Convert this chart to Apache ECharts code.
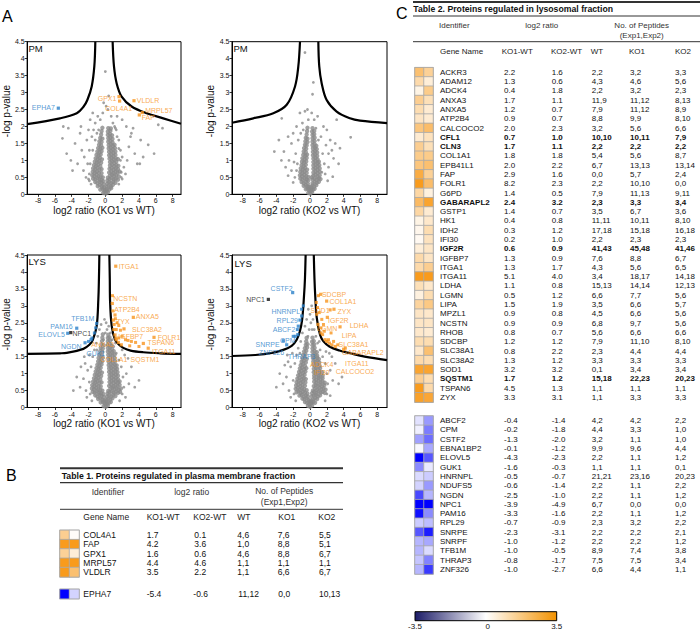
<!DOCTYPE html>
<html><head><meta charset="utf-8">
<script src="https://cdn.jsdelivr.net/npm/echarts@6/dist/echarts.min.js"></script>
<style>html,body{margin:0;padding:0;background:#fff}#c{width:700px;height:631px}</style>
</head><body><div id="c"></div>
<script>
// ---------------- DATA ----------------
const xTicks = [-8,-6,-4,-2,0,2,4,6,8];

// grey clouds
const pmKO1Core = [[-0.25,.04],[0.05,.02],[0.3,.06],[-0.1,.08],[0.15,.1],
[-0.6,.14],[-0.35,.17],[-0.1,.13],[0.2,.16],[0.45,.14],[0.7,.18],
[-0.9,.24],[-0.65,.27],[-0.4,.23],[0.4,.26],[0.65,.23],[0.9,.28],[-0.15,.2],[0.15,.22],
[-1.2,.36],[-0.95,.33],[-0.7,.37],[-0.45,.34],[0.45,.36],[0.7,.33],[0.95,.37],[1.2,.34],[-0.2,.3],[0.2,.31],
[-1.45,.46],[-1.2,.44],[-0.95,.47],[-0.7,.43],[-0.45,.42],[0.5,.45],[0.75,.47],[1.0,.44],[1.25,.46],[1.5,.43],[-0.25,.39],[0.25,.4],
[-1.55,.56],[-1.3,.54],[-1.05,.57],[-0.8,.53],[-0.55,.52],[0.55,.55],[0.8,.57],[1.05,.54],[1.3,.56],[1.6,.53],[-0.3,.5],[0.3,.49],
[-1.5,.66],[-1.25,.64],[-1.0,.67],[-0.75,.63],[-0.45,.62],[0.45,.64],[0.7,.67],[0.95,.63],[1.2,.66],[1.45,.64],[1.7,.67],
[-1.45,.76],[-1.2,.74],[-0.95,.77],[-0.7,.73],[-0.45,.74],[0.5,.75],[0.75,.77],[1.0,.73],[1.25,.76],[1.5,.74],
[-1.35,.86],[-1.1,.84],[-0.85,.87],[-0.6,.83],[0.55,.85],[0.8,.87],[1.05,.83],[1.3,.86],[1.55,.84],
[-1.25,.96],[-1.0,.94],[-0.75,.97],[-0.5,.93],[0.55,.95],[0.8,.97],[1.05,.93],[1.3,.96],
[-1.15,1.06],[-0.9,1.04],[-0.65,1.07],[-0.4,1.03],[0.5,1.05],[0.75,1.07],[1.0,1.03],[1.25,1.06],[1.5,1.04],
[-1.05,1.16],[-0.8,1.14],[-0.55,1.17],[0.45,1.15],[0.7,1.17],[0.95,1.13],[1.2,1.16],
[-0.95,1.26],[-0.7,1.24],[-0.45,1.27],[0.45,1.25],[0.7,1.27],[0.95,1.23],[1.2,1.26],
[-0.85,1.36],[-0.6,1.34],[-0.35,1.37],[0.4,1.35],[0.65,1.37],[0.9,1.33],[1.15,1.36],
[-0.75,1.46],[-0.5,1.44],[0.4,1.45],[0.65,1.47],[0.9,1.43],[1.1,1.46],
[-0.7,1.56],[-0.45,1.54],[0.35,1.55],[0.6,1.57],[0.85,1.53],
[-0.6,1.66],[-0.35,1.64],[0.35,1.65],[0.6,1.67],[0.85,1.63],
[-0.5,1.76],[0.3,1.75],[0.55,1.77],[0.8,1.74],
[-0.45,1.86],[0.3,1.85],[0.6,1.87],[-0.35,1.96],[0.35,1.95],[0.65,1.94]];
const pmKO1Scatter = [[-5.0,2.0],[-4.4,1.95],[-5.1,1.65],[-4.6,1.2],[-3.0,1.8],[-3.6,1.5],[-2.8,1.3],[-3.3,0.9],[-2.5,1.1],[-2.2,1.6],
[-2.6,0.7],[-2.1,0.9],[-1.9,1.3],[-2.3,0.5],[-1.9,0.4],[-1.8,2.2],[-2.0,1.9],[-1.6,1.7],[-1.4,1.9],[-1.2,2.1],[-1.0,1.8],[-0.9,2.3],
[-0.6,2.2],[-0.3,2.4],[0.1,2.6],[0.3,2.5],[0.4,2.9],[0.0,3.62],[-0.2,2.7],[0.7,2.3],[0.9,2.1],[1.1,2.0],[1.3,1.9],[1.6,1.6],[1.8,1.3],
[2.0,1.1],[2.2,0.8],[1.9,0.5],[2.4,0.6],[2.6,1.0],[2.8,1.4],[3.0,1.7],[3.3,1.95],[3.1,1.8],[3.5,1.2],[3.8,0.9],[4.1,0.9],[4.5,1.1],
[5.1,1.46],[5.8,1.2],[6.3,2.05],[6.8,1.95],[4.2,1.6],[2.5,2.0],[-3.9,0.7],[-2.9,2.0],[-4.1,1.0],[1.4,2.3],[2.0,2.2],[-1.5,2.4],
[-1.9,0.6],[-2.0,0.45],[1.9,0.65],[2.0,0.45],[-1.8,0.9],[1.8,1.0],[-1.5,1.3],[1.6,1.35],[-1.2,1.6],[1.4,1.7],[-0.8,1.9],[1.2,1.95],[-1.7,0.3],[1.6,0.3]];

const pmKO2Core = [[-0.2,.04],[0.05,.02],[0.25,.07],[-0.05,.1],[0.15,.12],
[-0.5,.15],[-0.3,.17],[-0.1,.14],[0.15,.17],[0.35,.14],[0.55,.16],
[-0.75,.25],[-0.5,.27],[-0.3,.23],[0.3,.26],[0.5,.23],[0.75,.27],[-0.1,.21],[0.1,.22],
[-1.0,.36],[-0.75,.33],[-0.5,.37],[-0.25,.31],[0.3,.33],[0.55,.36],[0.8,.34],[1.05,.37],
[-1.15,.46],[-0.9,.44],[-0.65,.47],[-0.4,.43],[-0.2,.41],[0.3,.44],[0.55,.46],[0.8,.43],[1.05,.47],[1.25,.45],
[-1.2,.56],[-0.95,.54],[-0.7,.57],[-0.45,.53],[0.4,.55],[0.65,.57],[0.9,.53],[1.15,.56],[-0.2,.51],[0.2,.5],
[-1.15,.66],[-0.9,.64],[-0.65,.67],[-0.4,.63],[0.4,.64],[0.65,.67],[0.9,.63],[1.15,.66],
[-1.1,.76],[-0.85,.74],[-0.6,.77],[-0.35,.73],[0.4,.75],[0.65,.77],[0.9,.73],[1.15,.76],
[-1.0,.86],[-0.75,.84],[-0.5,.87],[0.4,.85],[0.65,.87],[0.9,.83],[1.1,.86],
[-0.95,.96],[-0.7,.94],[-0.45,.97],[0.4,.95],[0.65,.97],[0.9,.93],[1.05,.96],
[-0.9,1.06],[-0.65,1.04],[-0.4,1.07],[0.4,1.05],[0.65,1.07],[0.9,1.03],
[-0.8,1.16],[-0.55,1.14],[-0.35,1.17],[0.35,1.15],[0.6,1.17],[0.85,1.13],
[-0.75,1.26],[-0.5,1.24],[0.35,1.25],[0.6,1.27],[0.85,1.23],
[-0.7,1.36],[-0.45,1.34],[0.35,1.35],[0.6,1.37],[0.8,1.33],
[-0.6,1.46],[-0.4,1.44],[0.3,1.45],[0.55,1.47],[0.75,1.43],
[-0.55,1.56],[-0.3,1.54],[0.3,1.55],[0.55,1.57],
[-0.5,1.66],[-0.3,1.64],[0.3,1.65],[0.55,1.67],
[-0.4,1.76],[0.3,1.75],[0.5,1.77],[-0.35,1.86],[0.25,1.85],[0.5,1.87],[-0.3,1.96],[0.3,1.95]];
const pmKO2Scatter = [[-0.6,4.18],[0.4,3.3],[0.3,2.95],[-0.3,2.5],[-0.6,2.45],[-1.2,2.4],[-0.9,2.1],[0.5,2.2],[0.9,2.3],[-4.24,1.26],
[-3.7,1.6],[-3.36,2.24],[4.83,1.68],[3.17,2.2],[3.56,1.36],[2.8,1.06],[2.7,0.52],[-3.1,1.26],[-2.9,0.8],[-2.5,1.0],[-2.2,1.5],
[-2.0,1.8],[-1.6,2.0],[-2.6,0.55],[2.2,1.2],[2.4,1.6],[2.0,1.9],[1.6,2.0],[1.3,1.7],[3.0,1.5],[1.8,0.6],[2.1,0.4],[-1.8,0.5],
[-2.0,0.35],[-1.4,1.6],[-1.7,1.2],[-1.5,0.9],[1.5,1.2],[1.7,0.9],[1.4,0.65],[-1.6,0.7],[-2.2,0.7],[2.2,0.8],[-0.8,1.9],[0.7,1.95],
[-1.1,1.8],[1.0,1.6],[-2.6,1.7],[2.6,1.3],[-3.4,1.0],[3.4,0.9],[-0.2,2.2],[0.2,2.4],[-1.9,0.95],[1.9,1.45]];

const lysKO1Core = [[-0.2,.04],[0.05,.02],[0.3,.06],[-0.05,.1],[0.2,.11],
[-0.55,.15],[-0.3,.17],[-0.1,.14],[0.15,.17],[0.4,.14],[0.65,.16],
[-0.85,.25],[-0.6,.27],[-0.35,.23],[0.35,.26],[0.6,.23],[0.85,.27],[-0.1,.21],[0.12,.22],
[-1.2,.36],[-0.95,.33],[-0.7,.37],[-0.45,.34],[-0.2,.31],[0.2,.32],[0.45,.36],[0.7,.33],[0.95,.37],[1.2,.34],
[-1.5,.46],[-1.25,.44],[-1.0,.47],[-0.75,.43],[-0.5,.42],[-0.25,.4],[0.25,.41],[0.5,.45],[0.75,.47],[1.0,.44],[1.25,.46],[1.5,.43],[1.75,.46],
[-1.6,.56],[-1.35,.54],[-1.1,.57],[-0.85,.53],[-0.6,.52],[-0.35,.5],[0.35,.49],[0.6,.55],[0.85,.57],[1.1,.54],[1.35,.56],[1.6,.53],[1.85,.56],
[-1.55,.66],[-1.3,.64],[-1.05,.67],[-0.8,.63],[-0.55,.62],[0.45,.64],[0.7,.67],[0.95,.63],[1.2,.66],[1.45,.64],[1.7,.67],
[-1.45,.76],[-1.2,.74],[-0.95,.77],[-0.7,.73],[-0.45,.74],[0.5,.75],[0.75,.77],[1.0,.73],[1.25,.76],[1.5,.74],[1.7,.77],
[-1.35,.86],[-1.1,.84],[-0.85,.87],[-0.6,.83],[0.5,.85],[0.75,.87],[1.0,.83],[1.25,.86],[1.5,.84],
[-1.25,.96],[-1.0,.94],[-0.75,.97],[-0.5,.93],[0.5,.95],[0.75,.97],[1.0,.93],[1.25,.96],[1.5,.94],
[-1.15,1.06],[-0.9,1.04],[-0.65,1.07],[-0.4,1.03],[0.45,1.05],[0.7,1.07],[0.95,1.03],[1.2,1.06],[1.45,1.04],
[-1.05,1.16],[-0.8,1.14],[-0.55,1.17],[0.45,1.15],[0.7,1.17],[0.95,1.13],[1.2,1.16],[1.4,1.14],
[-0.95,1.26],[-0.7,1.24],[-0.45,1.27],[0.4,1.25],[0.65,1.27],[0.9,1.23],[1.15,1.26],[1.35,1.24],
[-0.85,1.36],[-0.6,1.34],[-0.35,1.37],[0.4,1.35],[0.65,1.37],[0.9,1.33],[1.15,1.36],
[-0.8,1.46],[-0.55,1.44],[-0.3,1.47],[0.35,1.45],[0.6,1.47],[0.85,1.43],[1.1,1.46],
[-0.7,1.56],[-0.45,1.54],[0.35,1.55],[0.6,1.57],[0.85,1.53],[1.1,1.56],
[-0.6,1.66],[-0.35,1.64],[0.3,1.65],[0.55,1.67],[0.8,1.63],[1.0,1.66],
[-0.55,1.76],[-0.3,1.74],[0.3,1.75],[0.55,1.77],[0.8,1.73],
[-0.45,1.86],[-0.2,1.84],[0.3,1.85],[0.55,1.87],[0.75,1.83],
[-0.4,1.96],[0.3,1.95],[0.55,1.97],[-0.35,2.06],[0.3,2.05],[0.5,2.07],[-0.3,2.16],[0.35,2.15]];
const lysKO1Scatter = [[-3.0,0.6],[-2.6,0.85],[-2.3,0.5],[-2.1,1.1],[-2.4,1.3],[-1.9,0.75],[-1.8,0.4],[-1.7,1.2],[-1.5,1.5],[-1.3,1.7],
[-1.1,1.9],[-0.9,2.1],[-0.7,2.3],[-0.5,2.45],[-0.1,2.6],[0.1,2.5],[0.2,2.3],[0.4,2.4],[0.6,2.2],[0.8,2.0],[1.0,1.8],[1.3,1.6],
[1.6,1.4],[1.9,1.2],[2.1,0.9],[2.2,0.6],[2.0,0.4],[2.5,1.0],[2.8,0.7],[3.1,1.2],[2.7,1.45],[2.3,1.55],[-3.4,0.9],[-2.9,1.2],
[-1.9,1.55],[-3.8,0.5],[3.5,0.6],[-2.2,0.3],[2.4,0.3],[1.7,0.2],[-1.6,0.2],[0.0,2.2],[-0.2,2.0],[1.2,1.9],[-1.0,1.7],[2.0,1.7],
[-2.5,1.5],[4.0,0.8]];

const lysKO2Core = [[-0.25,.05],[0.0,.02],[0.25,.06],[-0.1,.1],[0.15,.12],
[-0.6,.16],[-0.35,.14],[-0.1,.17],[0.15,.15],[0.4,.17],[0.6,.14],
[-0.9,.26],[-0.65,.24],[-0.4,.27],[0.35,.24],[0.6,.27],[0.85,.25],[-0.15,.22],[0.1,.21],
[-1.25,.35],[-1.0,.37],[-0.75,.33],[-0.5,.36],[-0.25,.32],[0.2,.33],[0.45,.35],[0.7,.37],[0.95,.33],[1.2,.36],
[-1.6,.45],[-1.35,.47],[-1.1,.43],[-0.85,.46],[-0.6,.44],[-0.3,.41],[0.25,.42],[0.5,.46],[0.75,.43],[1.0,.47],[1.25,.44],[1.5,.46],[1.75,.43],
[-1.7,.55],[-1.45,.57],[-1.2,.53],[-0.95,.56],[-0.7,.54],[-0.4,.51],[0.35,.5],[0.6,.56],[0.85,.53],[1.1,.57],[1.35,.54],[1.6,.56],[1.85,.53],
[-1.65,.65],[-1.4,.67],[-1.15,.63],[-0.9,.66],[-0.6,.64],[0.45,.63],[0.7,.66],[0.95,.64],[1.2,.67],[1.45,.63],[1.7,.66],
[-1.6,.75],[-1.35,.77],[-1.1,.73],[-0.85,.76],[-0.55,.74],[0.5,.76],[0.75,.73],[1.0,.77],[1.25,.74],[1.5,.76],[1.75,.73],
[-1.5,.85],[-1.25,.87],[-1.0,.83],[-0.75,.86],[-0.5,.84],[0.5,.86],[0.75,.83],[1.0,.87],[1.25,.84],[1.5,.86],
[-1.4,.95],[-1.15,.97],[-0.9,.93],[-0.65,.96],[0.5,.94],[0.75,.97],[1.0,.93],[1.25,.96],[1.5,.94],
[-1.3,1.05],[-1.05,1.07],[-0.8,1.03],[-0.55,1.06],[0.45,1.04],[0.7,1.07],[0.95,1.03],[1.2,1.06],[1.45,1.04],
[-1.2,1.15],[-0.95,1.17],[-0.7,1.13],[-0.45,1.16],[0.45,1.14],[0.7,1.17],[0.95,1.13],[1.2,1.16],
[-1.1,1.25],[-0.85,1.27],[-0.6,1.23],[0.4,1.26],[0.65,1.24],[0.9,1.27],[1.15,1.23],
[-1.0,1.35],[-0.75,1.37],[-0.5,1.33],[0.4,1.36],[0.65,1.34],[0.9,1.37],[1.1,1.33],
[-0.9,1.45],[-0.65,1.47],[-0.4,1.43],[0.35,1.46],[0.6,1.44],[0.85,1.47],[1.05,1.43],
[-0.8,1.55],[-0.55,1.57],[0.35,1.54],[0.6,1.56],[0.85,1.53],
[-0.7,1.65],[-0.45,1.67],[0.3,1.64],[0.55,1.66],[0.8,1.63],
[-0.6,1.75],[-0.35,1.77],[0.3,1.74],[0.55,1.76],
[-0.5,1.85],[-0.3,1.87],[0.3,1.84],[0.5,1.86],
[-0.45,1.95],[0.25,1.94],[0.45,1.96],[-0.4,2.05],[0.3,2.06]];
const lysKO2Scatter = [[-3.2,0.7],[-2.8,0.9],[-2.5,0.5],[-2.3,1.2],[-2.6,1.35],[-2.0,0.8],[-1.9,0.4],[-1.8,1.3],[-1.6,1.55],[-1.4,1.75],
[-1.1,1.95],[-0.9,2.2],[-0.6,2.4],[-0.4,2.6],[0.0,2.75],[0.1,2.5],[0.25,2.3],[0.35,2.6],[0.5,2.3],[0.7,2.1],[0.9,1.9],[1.2,1.7],
[1.5,1.5],[1.8,1.3],[2.0,1.0],[2.1,0.7],[2.0,0.4],[2.4,1.1],[2.7,0.8],[3.0,1.3],[2.6,1.5],[2.3,1.6],[-3.6,1.0],[-3.0,1.25],
[-2.1,1.6],[-4.0,0.6],[3.4,0.7],[-2.3,0.3],[2.4,0.35],[1.8,0.2],[-1.7,0.2],[-0.1,2.3],[-0.25,2.1],[1.1,1.95],[-1.2,1.6],
[1.9,1.65],[-2.7,1.55],[3.8,0.9],[0.2,3.0],[-0.2,2.9]];

// significance threshold curves
const pmKO1CurveL = [[-9.3,2.07],[-5.39,2.24],[-3.4,2.39],[-2.6,2.58],[-2.14,2.78],[-1.62,3.18],[-1.31,3.77],[-1.19,4.5]];
const pmKO1CurveR = [[0.87,4.5],[1.03,3.77],[1.35,3.27],[1.94,2.88],[3.13,2.59],[4.91,2.39],[6.89,2.24],[9.0,2.08]];
const pmKO2CurveL = [[-9.27,2.11],[-6.74,2.24],[-4.36,2.39],[-2.77,2.64],[-1.78,3.18],[-1.39,3.77],[-1.19,4.5]];
const pmKO2CurveR = [[0.99,4.5],[1.1,3.77],[1.39,3.27],[1.98,2.78],[3.17,2.44],[4.75,2.24],[5.94,2.17],[9.15,2.1]];
const lysKO1CurveL = [[-9.3,1.58],[-5.38,1.6],[-4.59,1.61],[-2.61,1.73],[-1.9,1.85],[-1.5,1.99],[-1.03,2.4],[-0.83,3.2],[-0.76,3.8],[-0.71,4.5]];
const lysKO1CurveR = [[0.48,4.5],[0.53,3.8],[0.56,3.17],[0.76,2.4],[1.15,2.0],[1.6,1.86],[2.14,1.76],[3.0,1.68],[4.5,1.63],[6.5,1.6],[9.0,1.58]];
const lysKO2CurveL = [[-9.27,1.52],[-6.5,1.55],[-4.36,1.62],[-3.17,1.7],[-2.18,1.82],[-1.58,2.0],[-1.2,2.25],[-0.93,2.6],[-0.71,3.3],[-0.6,3.8],[-0.52,4.5]];
const lysKO2CurveR = [[0.45,4.5],[0.53,3.8],[0.62,3.3],[0.8,2.65],[1.19,2.15],[1.6,1.95],[2.3,1.8],[3.5,1.68],[4.75,1.6],[6.5,1.5],[9.15,1.4]];

// labelled / significant proteins: [name, log2 ratio, -log p]
const pmKO1Up = [['GPX1',1.63,2.88],['COL4A1',1.7,2.75],['VLDLR',3.41,2.76],['MRPL57',4.4,2.41],['FAP',4.04,2.34]];
const pmKO1Down = [['EPHA7',-5.59,2.54]];
const lysKO1Up = [['ITGA1',1.24,4.17],['NCSTN',0.83,3.07],['ATP2B4',1.15,2.73],['ZYX',0.95,2.58],['ANXA5',3.33,2.66],['SLC38A2',2.22,2.32],
 ['IGFBP7',1.15,2.14],['FOLR1',5.79,2.07],['TSPAN6',4.52,1.89],['ITGA11',5.1,1.75],['SQSTM1',1.9,1.85],['COL1A1',1.55,1.92],['ANXA3',1.3,2.0]];
const lysKO1UpOther = [[1.4,2.5],[1.6,2.42],[1.8,2.28],[1.3,2.3],[2.0,2.1],[2.4,2.0],[2.7,1.98],[3.1,1.95],[3.6,1.92],[1.05,2.45],[0.9,2.85],
 [1.0,2.3],[1.6,2.05],[2.9,1.82],[4.0,1.8],[1.25,2.05],[0.85,3.3],[1.2,2.62]];
const lysKO1Down = [['TFB1M',-1.03,2.48],['PAM16',-3.4,2.34],['ELOVL5',-4.47,2.19],['NGDN',-2.41,1.91],['GUK1',-1.7,2.0]];
const lysKO1DownOther = [[-1.3,2.2],[-1.15,2.35],[-1.6,2.05],[-2.0,1.95]];
const lysKO1Npc = [['NPC1',-4.11,2.21]];
const lysKO2Up = [['SDCBP',1.27,3.34],['COL1A1',1.98,3.14],['SOD1',2.38,2.88],['ZYX',2.85,2.9],['IGF2R',2.06,2.66],['LGMN',0.95,2.45],
 ['LDHA',3.57,2.38],['LIPA',2.0,1.95],['SLC38A1',2.6,1.85],['GABARAPL2',3.0,1.8],['ITGA11',4.0,1.72],['CALCOCO2',2.3,1.9],['ADCK4',1.8,2.0],['IFI30',1.3,2.2]];
const lysKO2UpOther = [[0.75,3.1],[0.9,2.95],[1.1,2.8],[1.4,2.6],[1.6,2.45],[0.8,2.75],[1.3,2.35],[1.7,2.25],[2.5,2.2],[1.5,2.15],[2.8,1.95],
 [3.3,1.85],[4.2,1.75],[2.2,2.0],[1.0,3.3]];
const lysKO2Down = [['CSTF2',-2.06,3.39],['HNRNPL',-0.99,2.7],['RPL29',-1.19,2.58],['ABCF2',-1.39,2.4],['CPM',-1.45,2.15],['SNRPE',-3.17,1.97],
 ['ZNF326',-2.77,1.85],['THRAP3',-1.75,2.1]];
const lysKO2DownOther = [[-1.0,2.9],[-1.5,2.3],[-0.8,3.0],[-2.0,2.1]];
const lysKO2Npc = [['NPC1',-4.95,3.19]];

// Table 1 (plasma membrane)
const t1UpGenes = ['COL4A1','FAP','GPX1','MRPL57','VLDLR'];
const t1UpKO1 = [1.7,4.2,1.6,4.4,3.5];
const t1UpKO2 = [0.1,3.6,0.6,4.6,2.2];
const t1UpPepWT = ['4,6','1,0','4,6','1,1','1,1'];
const t1UpPepKO1 = ['7,6','8,8','8,8','1,1','6,6'];
const t1UpPepKO2 = ['5,5','5,1','6,7','1,1','6,7'];
const t1DownGenes = ['EPHA7'];
const t1DownKO1 = [-5.4];
const t1DownKO2 = [-0.6];
const t1DownPepWT = ['11,12'];
const t1DownPepKO1 = ['0,0'];
const t1DownPepKO2 = ['10,13'];

// Table 2 (lysosomal)
const t2UpGenes = ['ACKR3','ADAM12','ADCK4','ANXA3','ANXA5','ATP2B4','CALCOCO2','CFL1','CLN3','COL1A1','EPB41L1','FAP','FOLR1','G6PD',
 'GABARAPL2','GSTP1','HK1','IDH2','IFI30','IGF2R','IGFBP7','ITGA1','ITGA11','LDHA','LGMN','LIPA','MPZL1','NCSTN','RHOB','SDCBP',
 'SLC38A1','SLC38A2','SOD1','SQSTM1','TSPAN6','ZYX'];
const t2UpKO1 = [2.2,1.3,0.4,1.7,1.2,0.9,2.0,0.7,1.7,1.8,2.0,2.9,8.2,1.4,2.4,1.4,0.4,0.3,0.2,0.6,1.3,1.3,5.1,1.1,0.5,1.5,0.9,0.9,0.8,1.2,0.8,1.3,3.2,1.7,4.5,3.3];
const t2UpKO2 = [1.6,0.6,1.8,1.1,0.7,0.7,2.3,1.0,1.1,1.8,2.2,1.6,2.3,0.5,3.2,0.7,0.8,1.2,1.0,0.9,0.9,1.7,4.0,0.8,1.2,1.9,0.8,0.9,0.7,1.2,2.2,1.2,3.2,1.2,1.3,3.1];
const t2UpPepWT = ['2,2','4,3','2,2','11,9','7,9','8,8','3,2','10,10','2,2','5,4','6,7','0,0','2,2','7,9','2,3','3,5','11,11','17,18','2,2','41,43',
 '7,6','4,3','3,4','15,13','6,6','3,5','4,5','6,8','5,6','7,9','2,3','3,3','0,1','15,18','1,1','1,1'];
const t2UpPepKO1 = ['3,2','4,6','3,2','11,12','11,12','9,9','5,6','10,11','2,2','5,6','13,13','5,7','10,10','11,13','3,3','6,7','10,11','15,18',
 '2,3','45,48','8,8','5,6','18,17','14,14','7,7','6,6','6,6','9,7','6,6','11,10','4,4','3,3','3,4','22,23','1,1','3,3'];
const t2UpPepKO2 = ['3,3','5,6','2,3','8,13','8,9','8,10','6,6','7,9','2,2','8,7','13,14','2,4','0,0','9,11','3,4','3,6','8,10','16,18','2,3',
 '41,46','6,7','6,5','14,18','12,13','5,6','5,7','5,6','5,6','6,6','8,10','4,4','3,3','3,4','20,23','1,1','3,3'];
const t2Bold = ['CFL1','CLN3','GABARAPL2','IGF2R','SQSTM1'];
const t2DownGenes = ['ABCF2','CPM','CSTF2','EBNA1BP2','ELOVL5','GUK1','HNRNPL','NDUFS5','NGDN','NPC1','PAM16','RPL29','SNRPE','SNRPF','TFB1M','THRAP3','ZNF326'];
const t2DownKO1 = [-0.4,-0.2,-1.3,-0.1,-4.3,-1.6,-0.5,-0.6,-2.5,-3.9,-3.3,-0.7,-2.3,-1.0,-1.0,-0.8,-1.0];
const t2DownKO2 = [-1.4,-1.8,-2.0,-1.2,-2.3,-0.3,-0.7,-1.4,-1.0,-4.9,-1.6,-0.9,-3.1,-1.2,-0.5,-1.7,-2.7];
const t2DownPepWT = ['4,2','4,4','3,2','9,9','2,2','1,1','21,21','2,2','2,2','6,7','2,2','2,3','2,2','2,2','8,9','7,5','6,6'];
const t2DownPepKO1 = ['4,2','3,3','1,1','9,6','1,1','1,1','23,16','1,1','1,1','0,0','1,1','3,2','2,2','2,2','7,4','7,5','4,4'];
const t2DownPepKO2 = ['2,2','1,0','1,0','4,4','1,2','0,1','20,23','2,2','1,2','0,0','1,2','2,2','2,1','1,2','3,8','3,4','1,1'];

const colorbarTicks = ['-3.5','0','3.5'];

// ---------------- STYLE / LAYOUT ----------------
const FONT = "'Liberation Sans', Arial, Helvetica, sans-serif";
const ORANGE = '#f7941d', BLUE = '#2b80c8', GREY = '#8a8a8a';
const labelOffsets = {
  pmKO1: {GPX1:[-12,2], COL4A1:[-1,7.5], VLDLR:[14,0], MRPL57:[16.5,-2], FAP:[9,2.3], EPHA7:[-15,-1]},
  pmKO2: {},
  lysKO1: {ITGA1:[13,0], NCSTN:[13,-4.6], ATP2B4:[12,-5.7], ZYX:[9.5,1.5], ANXA5:[14,-0.6], SLC38A2:[23,0.3], IGFBP7:[15.7,1.7],
    FOLR1:[15,-0.3], TSPAN6:[17.5,-1], ITGA11:[15.5,3.8], SQSTM1:[23.7,14.5], COL1A1:[-4.5,16.6], ANXA3:[-13.5,4.5],
    TFB1M:[-13.9,-5], PAM16:[-15.2,-1.6], ELOVL5:[-16.2,1.7], NGDN:[-13.7,4], GUK1:[4.7,13.5], NPC1:[11.1,1.3]},
  lysKO2: {CSTF2:[-11,-4.4], HNRNPL:[-15.9,-4.3], RPL29:[-12.7,0.7], ABCF2:[-14.3,3.3], CPM:[-10,5.4], SNRPE:[-15.8,4], ZNF326:[-15.2,7.2],
    THRAP3:[6.4,19.7], NPC1:[-12.8,0], SDCBP:[13.3,0], COL1A1:[16.3,0], SOD1:[-10,1], ZYX:[10.3,2.3], IGF2R:[11,2.7], LGMN:[9.3,3.9],
    LDHA:[19,-1], LIPA:[22.2,-5.5], SLC38A1:[21.6,-0.6], GABARAPL2:[27.6,6.2], ITGA11:[13.1,14.1], CALCOCO2:[25.6,27.9], ADCK4:[-3.4,24.5], IFI30:[0.8,40]}
};

const volcanoes = [
  {key:'pmKO1', grid:{left:27, top:41.7, width:154, height:152.6}, xr:[-9.3,9.0], xname:'log2 ratio (KO1 vs WT)', tag:'PM', tagPos:[28.5,48.3],
   core:pmKO1Core, sc:pmKO1Scatter, cl:pmKO1CurveL, cr:pmKO1CurveR, up:pmKO1Up, upO:[], dn:pmKO1Down, dnO:[], blk:[]},
  {key:'pmKO2', grid:{left:232, top:41.7, width:155, height:152.6}, xr:[-9.27,9.15], xname:'log2 ratio (KO2 vs WT)', tag:'PM', tagPos:[233.5,48.3],
   core:pmKO2Core, sc:pmKO2Scatter, cl:pmKO2CurveL, cr:pmKO2CurveR, up:[], upO:[], dn:[], dnO:[], blk:[]},
  {key:'lysKO1', grid:{left:27, top:255, width:154, height:152.5}, xr:[-9.3,9.0], xname:'log2 ratio (KO1 vs WT)', tag:'LYS', tagPos:[28.5,261.7],
   core:lysKO1Core, sc:lysKO1Scatter, cl:lysKO1CurveL, cr:lysKO1CurveR, up:lysKO1Up, upO:lysKO1UpOther, dn:lysKO1Down, dnO:lysKO1DownOther, blk:lysKO1Npc},
  {key:'lysKO2', grid:{left:232, top:255, width:155, height:152.5}, xr:[-9.27,9.15], xname:'log2 ratio (KO2 vs WT)', tag:'LYS', tagPos:[234.5,263],
   core:lysKO2Core, sc:lysKO2Scatter, cl:lysKO2CurveL, cr:lysKO2CurveR, up:lysKO2Up, upO:lysKO2UpOther, dn:lysKO2Down, dnO:lysKO2DownOther, blk:lysKO2Npc}
];

const heatTables = [
  {grid:{left:60, top:530.35, width:19, height:46.5}, genes:t1UpGenes, ko1:t1UpKO1, ko2:t1UpKO2, wt:t1UpPepWT, p1:t1UpPepKO1, p2:t1UpPepKO2,
   y0:535, pitch:9.3, cols:[146.7,194.3,237.3,277.7,319], fs:8.5, margin:4.3, bold:[]},
  {grid:{left:60, top:589.35, width:19, height:9.3}, genes:t1DownGenes, ko1:t1DownKO1, ko2:t1DownKO2, wt:t1DownPepWT, p1:t1DownPepKO1, p2:t1DownPepKO2,
   y0:594, pitch:9.3, cols:[146.7,193.3,238.3,278.3,319], fs:8.5, margin:4.3, bold:[]},
  {grid:{left:415, top:67.65, width:18, height:36*9.29}, genes:t2UpGenes, ko1:t2UpKO1, ko2:t2UpKO2, wt:t2UpPepWT, p1:t2UpPepKO1, p2:t2UpPepKO2,
   y0:72.3, pitch:9.29, cols:[504,551.7,591.7,630,675], fs:8, margin:7, bold:t2Bold},
  {grid:{left:415, top:416.05, width:18, height:17*9.29}, genes:t2DownGenes, ko1:t2DownKO1, ko2:t2DownKO2, wt:t2DownPepWT, p1:t2DownPepKO1, p2:t2DownPepKO2,
   y0:420.7, pitch:9.29, cols:[504,551.7,591.7,630,675], fs:8, margin:7, bold:[]}
];

// ---------------- BUILD ----------------
const grids = [], xAxes = [], yAxes = [], series = [], graphics = [];
function txt(x, y, text, o) {
  graphics.push({type:'text', x:x, y:y, silent:true, z:10,
    style:Object.assign({text:text, fontSize:8, fontFamily:FONT, fill:'#111', align:'left', verticalAlign:'middle'}, o || {})});
}
function rule(x1, x2, y, w) {
  graphics.push({type:'line', silent:true, shape:{x1:x1, y1:y, x2:x2, y2:y}, style:{stroke:'#333', lineWidth:w}});
}
function labelled(list, offs) {
  return list.map(function (r) { return {name:r[0], value:[r[1], r[2]], label:{offset:offs[r[0]] || [0,0]}}; });
}

volcanoes.forEach(function (v, i) {
  grids.push(Object.assign({show:true, borderColor:'#000', borderWidth:1, backgroundColor:'transparent'}, v.grid));
  xAxes.push({type:'value', gridIndex:i, min:v.xr[0], max:v.xr[1],
    axisLine:{show:true, onZero:false, lineStyle:{color:'#000', width:1}},
    axisTick:{show:true, customValues:xTicks, length:2.5, lineStyle:{color:'#000', width:0.8}},
    axisLabel:{customValues:xTicks, fontSize:7, margin:3, color:'#111', fontFamily:FONT},
    splitLine:{show:false},
    name:v.xname, nameLocation:'middle', nameGap:11, nameTextStyle:{fontSize:10, color:'#111', fontFamily:FONT}});
  yAxes.push({type:'value', gridIndex:i, min:0, max:4.5, interval:0.5,
    axisLine:{show:true, onZero:false, lineStyle:{color:'#000', width:1}},
    axisTick:{show:true, length:2.5, lineStyle:{color:'#000', width:0.8}},
    axisLabel:{fontSize:7, margin:2.5, color:'#111', fontFamily:FONT},
    splitLine:{show:false},
    name:'-log p-value', nameLocation:'middle', nameGap:13, nameTextStyle:{fontSize:10, color:'#111', fontFamily:FONT, padding:[0,0,0,14]}});
  const base = {xAxisIndex:i, yAxisIndex:i, silent:true, animation:false};
  series.push(Object.assign({type:'scatter', data:v.core, symbol:'circle', symbolSize:4.4, itemStyle:{color:GREY}, z:2}, base));
  series.push(Object.assign({type:'scatter', data:v.sc, symbol:'circle', symbolSize:2.8, itemStyle:{color:GREY}, z:2}, base));
  [v.cl, v.cr].forEach(function (c) {
    series.push(Object.assign({type:'line', data:c, smooth:0.35, symbol:'none', clip:true, lineStyle:{color:'#000', width:2.2}, z:3}, base));
  });
  const offs = labelOffsets[v.key];
  const lab = function (col) { return {show:true, position:'inside', formatter:'{b}', color:col, fontSize:7, fontFamily:FONT}; };
  if (v.upO.length) series.push(Object.assign({type:'scatter', data:v.upO, symbol:'rect', symbolSize:3, itemStyle:{color:ORANGE}, z:4}, base));
  if (v.dnO.length) series.push(Object.assign({type:'scatter', data:v.dnO, symbol:'rect', symbolSize:3, itemStyle:{color:BLUE}, z:4}, base));
  if (v.up.length) series.push(Object.assign({type:'scatter', data:labelled(v.up, offs), symbol:'rect', symbolSize:3.2, itemStyle:{color:ORANGE}, label:lab(ORANGE), z:5}, base));
  if (v.dn.length) series.push(Object.assign({type:'scatter', data:labelled(v.dn, offs), symbol:'rect', symbolSize:3.2, itemStyle:{color:BLUE}, label:lab(BLUE), z:5}, base));
  if (v.blk.length) series.push(Object.assign({type:'scatter', data:labelled(v.blk, offs), symbol:'rect', symbolSize:3.2, itemStyle:{color:'#111'}, label:lab('#111'), z:5}, base));
  txt(v.tagPos[0], v.tagPos[1], v.tag, {fontSize:9.5});
});

const heatIdx = [];
heatTables.forEach(function (t, k) {
  const gi = grids.length;
  grids.push(Object.assign({show:true, borderColor:'#999', borderWidth:1.2, backgroundColor:'transparent'}, t.grid));
  xAxes.push({type:'category', gridIndex:gi, data:['KO1-WT','KO2-WT'], show:false});
  yAxes.push({type:'category', gridIndex:gi, data:t.genes, inverse:true, position:'right',
    axisLine:{show:false}, axisTick:{show:false}, splitLine:{show:false},
    axisLabel:{show:true, interval:0, margin:t.margin, fontSize:t.fs, color:'#111', fontFamily:FONT, align:'left',
      formatter:function (val) { return t.bold.indexOf(val) >= 0 ? '{b|' + val + '}' : val; },
      rich:{b:{fontWeight:'bold', fontSize:t.fs, fontFamily:FONT, color:'#111'}}}});
  const data = [];
  t.genes.forEach(function (g, r) { data.push([0, r, t.ko1[r]]); data.push([1, r, t.ko2[r]]); });
  heatIdx.push(series.length);
  series.push({type:'heatmap', xAxisIndex:gi, yAxisIndex:gi, data:data, silent:true,
    itemStyle:{borderColor:'#aaa', borderWidth:0.8}, emphasis:{disabled:true}});
  t.genes.forEach(function (g, r) {
    const y = t.y0 + r * t.pitch;
    const o = {fontSize:t.fs, fontWeight:t.bold.indexOf(g) >= 0 ? 'bold' : 'normal'};
    txt(t.cols[0], y, t.ko1[r].toFixed(1), o);
    txt(t.cols[1], y, t.ko2[r].toFixed(1), o);
    txt(t.cols[2], y, t.wt[r], o);
    txt(t.cols[3], y, t.p1[r], o);
    txt(t.cols[4], y, t.p2[r], o);
  });
});

// Table 1 headers
rule(60, 343, 468.3, 2);
txt(61.7, 475.7, 'Table 1. Proteins regulated in plasma membrane fraction', {fontWeight:'bold', fontSize:8.7});
rule(60, 343, 482.7, 1.2);
txt(108, 491.7, 'Identifier', {align:'center', fontSize:8.5, fill:'#333'});
txt(191.7, 491.7, 'log2 ratio', {align:'center', fontSize:8.5, fill:'#333'});
txt(284.2, 490.7, 'No. of Peptides', {align:'center', fontSize:8.5, fill:'#333'});
txt(284.2, 501.7, '(Exp1,Exp2)', {align:'center', fontSize:8.5, fill:'#333'});
rule(60, 343, 509.3, 1);
[['Gene Name',83.3],['KO1-WT',146.7],['KO2-WT',193.3],['WT',237.3],['KO1',278.3],['KO2',318.3]].forEach(function (h) {
  txt(h[1], 517.3, h[0], {fontSize:8.5, fill:'#222'});
});

// Table 2 headers
rule(413, 700, 2, 2);
txt(413.3, 9.3, 'Table 2. Proteins regulated in lysosomal fraction', {fontWeight:'bold', fontSize:8.7});
rule(413, 700, 16, 1.2);
txt(454.3, 25, 'Identifier', {align:'center', fontSize:8, fill:'#333'});
txt(541.7, 25, 'log2 ratio', {align:'center', fontSize:8, fill:'#333'});
txt(641.7, 25, 'No. of Peptides', {align:'center', fontSize:8, fill:'#333'});
txt(641.7, 35, '(Exp1,Exp2)', {align:'center', fontSize:8, fill:'#333'});
rule(413, 700, 41.7, 1);
[['Gene Name',440],['KO1-WT',501.7],['KO2-WT',551],['WT',590.7],['KO1',629],['KO2',675]].forEach(function (h) {
  txt(h[1], 51.7, h[0], {fontSize:8, fill:'#222'});
});

// colour bar
graphics.push({type:'rect', silent:true, shape:{x:415, y:611.7, width:141.7, height:9},
  style:{fill:{type:'linear', x:0, y:0, x2:1, y2:0, colorStops:[{offset:0, color:'#1c1c68'}, {offset:0.5, color:'#ffffff'}, {offset:1, color:'#f39200'}]},
  stroke:'#000', lineWidth:1}});
[[415,0],[487.7,1],[556.7,2]].forEach(function (p) { txt(p[0], 626, colorbarTicks[p[1]], {align:'center', fontSize:8}); });

// panel letters
txt(2, 16, 'A', {fontSize:16, fill:'#000'});
txt(6, 475, 'B', {fontSize:16, fill:'#000'});
txt(396, 13, 'C', {fontSize:16, fill:'#000'});

const chart = echarts.init(document.getElementById('c'), null, {renderer:'svg', width:700, height:631});
chart.setOption({
  animation:false,
  backgroundColor:'#fff',
  textStyle:{fontFamily:FONT},
  grid:grids, xAxis:xAxes, yAxis:yAxes,
  visualMap:{type:'continuous', show:false, seriesIndex:heatIdx, dimension:2, min:-10.5, max:10.5,
    inRange:{color:['#0000ff','#0000ff','#0000ff','#ffffff','#f99b1c','#f99b1c','#f99b1c']}},
  series:series,
  graphic:graphics
});
</script></body></html>
